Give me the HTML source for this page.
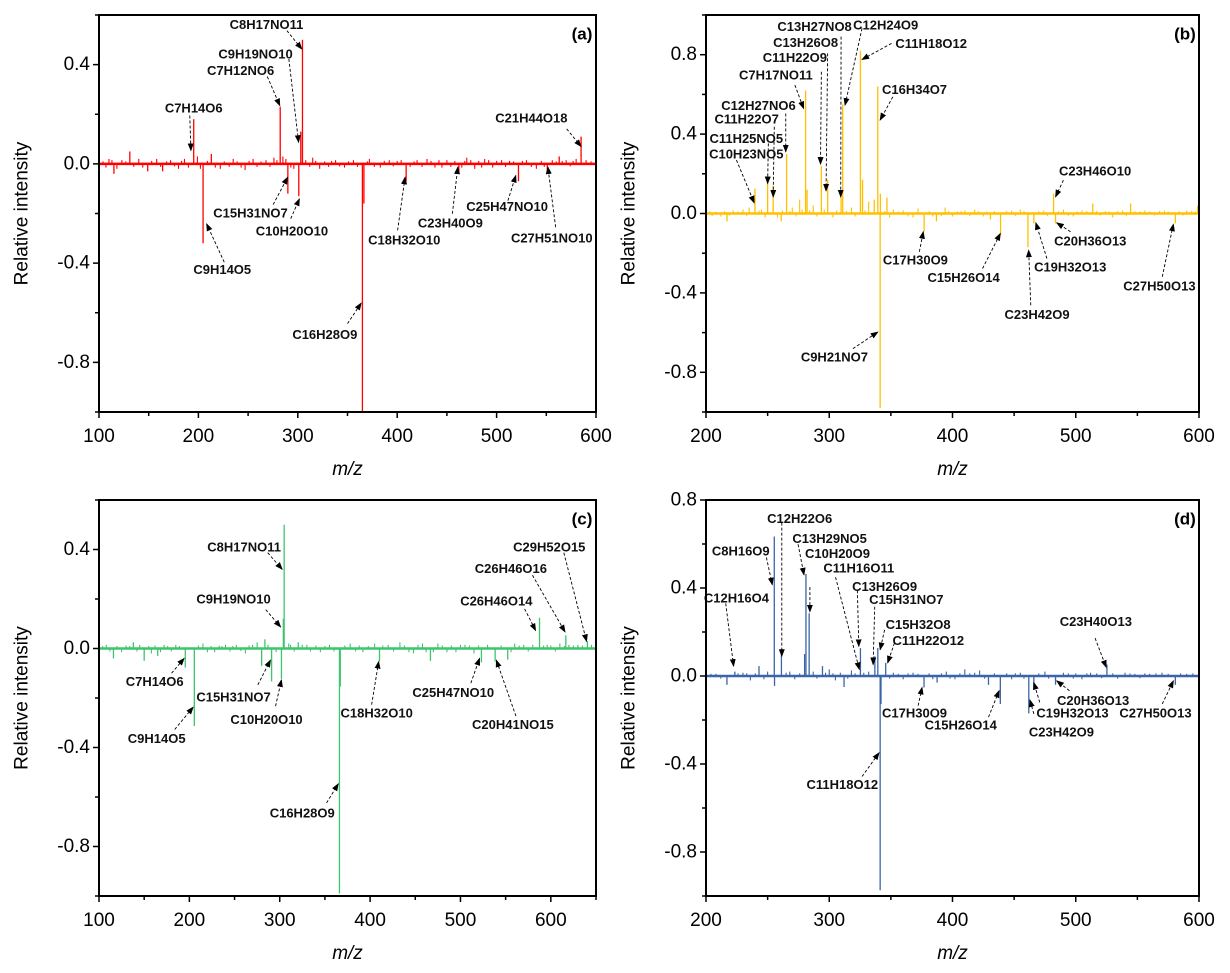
<!DOCTYPE html>
<html><head><meta charset="utf-8">
<style>
html,body{margin:0;padding:0;background:#fff;}
svg{display:block;font-family:"Liberation Sans",Arial,sans-serif;}
</style></head>
<body>
<svg id="fig" width="1230" height="973" viewBox="0 0 1230 973" xmlns="http://www.w3.org/2000/svg">
<defs>
<marker id="ah" markerWidth="8" markerHeight="8" refX="7" refY="4" orient="auto" markerUnits="userSpaceOnUse">
<path d="M0,1 L8,4 L0,7 Z" fill="#000"/>
</marker>
</defs>
</svg>
<script>
// ---------- Panel (a) data ----------
const aPeakMz  = [195.3,282.3,304.7,303,585,204.7,290,301,365,366.5,409,462,522,551,131,213,115,149,164,563];
const aPeakVal = [0.18,0.23,0.50,0.13,0.11,-0.32,-0.12,-0.13,-1.0,-0.16,-0.07,-0.04,-0.07,-0.04,0.05,0.04,-0.04,-0.03,-0.03,0.03];
const aNoiseMz  = [104,107,110,113,118,123,127,135,140,144,153,158,162,168,172,176,180,183,186,190,199,202,209,217,222,226,231,235,239,243,247,251,255,259,263,268,272,276,279,285,288,293,296,308,312,315,318,322,327,331,334,338,342,347,351,356,360,370,372,377,383,387,392,396,400,404,413,417,420,425,430,434,438,442,445,450,454,458,465,468,470,474,478,482,485,488,492,496,500,505,509,513,517,526,530,535,540,545,548,556,560,566,570,574,577,580,590,595];
const aNoiseVal = [0.01,-0.015,0.02,0.015,-0.02,0.015,0.01,-0.012,0.02,-0.015,0.012,0.02,-0.012,0.01,0.015,-0.01,-0.02,0.012,0.02,-0.015,0.03,-0.02,0.012,-0.015,-0.02,0.01,-0.012,0.02,0.01,-0.015,-0.025,0.012,0.02,-0.012,0.01,0.015,-0.012,0.025,0.015,0.03,0.02,-0.015,-0.02,0.015,-0.012,0.025,0.012,-0.02,0.01,-0.012,0.012,0.015,-0.01,-0.015,0.01,0.015,-0.012,0.01,0.02,-0.012,-0.015,0.012,0.015,-0.01,0.012,0.015,-0.012,0.01,0.015,-0.012,0.02,0.012,-0.015,0.015,-0.015,0.015,-0.012,0.012,-0.015,0.012,0.025,0.015,-0.02,0.012,-0.015,0.02,0.015,-0.015,0.012,0.015,-0.012,0.012,0.01,0.012,0.015,-0.012,-0.02,0.012,-0.012,0.015,0.01,0.012,0.015,-0.01,0.012,0.02,0.015,0.01];
const aLabels = ["C8H17NO11","C9H19NO10","C7H12NO6","C7H14O6","C21H44O18","C15H31NO7","C10H20O10","C9H14O5","C16H28O9","C18H32O10","C23H40O9","C25H47NO10","C27H51NO10"];
const aLabelMz  = [268.5,257.5,242.5,195.3,535,252.4,294.1,224,327.2,407.1,453.5,510.6,555.5];
const aLabelVal = [0.561,0.443,0.376,0.225,0.184,-0.197,-0.271,-0.426,-0.687,-0.306,-0.239,-0.172,-0.298];
const aTailMz   = [289,291,269.3,191.3,570.5,275.2,292.9,226,350,400.4,455.5,511.4,559.4];
const aTailVal  = [0.537,0.423,0.352,0.195,0.141,-0.164,-0.221,-0.396,-0.644,-0.268,-0.201,-0.148,-0.255];
const aTipMz    = [304,300.8,281.9,192.5,585,289.8,301.6,208.3,363.8,407.9,461,519.3,551.6];
const aTipVal   = [0.463,0.087,0.235,0.054,0.070,-0.054,-0.141,-0.242,-0.561,-0.054,-0.013,-0.047,-0.013];

// ---------- Panel (b) data ----------
const bPeakMz  = [239.7,250,254.5,265.4,280.8,282,293.6,298.7,310.9,309.6,325.3,327,339.4,341.5,341.3,482,513.8,544.5,599,346.8,336.5,377,439,461.2,466,483.6,580.8,217,261,387,430.8];
const bPeakVal = [0.126,0.16,0.14,0.30,0.62,0.12,0.24,0.17,0.55,0.09,0.82,0.17,0.64,0.10,-0.98,0.10,0.05,0.05,0.04,0.08,0.07,-0.09,-0.11,-0.17,-0.05,-0.05,-0.05,-0.04,-0.04,-0.04,-0.03];
const bNoiseMz  = [203,205,208,212,215,219,222,226,230,233,235,243,245,248,258,262,268,270,273,276,278,284,287,290,296,303,306,314,318,321,329,332,345,349,352,356,360,364,368,372,381,384,391,394,397,400,404,407,410,414,418,421,425,428,434,444,448,451,455,458,470,474,477,486,490,494,498,501,505,509,517,520,524,527,530,534,538,541,548,552,556,560,564,568,572,575,584,587,590,594,597];
const bNoiseVal = [0.01,-0.012,0.01,-0.015,0.012,-0.01,0.015,0.01,0.02,-0.012,0.03,0.015,0.02,-0.02,-0.02,0.015,0.012,0.03,-0.015,0.07,0.02,0.015,0.04,-0.015,0.02,-0.02,0.015,0.012,0.03,-0.015,0.015,0.06,0.012,-0.02,0.02,0.01,0.015,-0.015,-0.02,0.025,0.012,-0.015,-0.012,0.03,0.012,-0.015,0.01,0.012,0.015,-0.012,0.02,0.012,-0.015,0.01,0.012,0.012,0.015,-0.012,0.02,0.012,0.012,0.015,-0.012,0.012,0.02,-0.012,-0.015,0.01,0.015,0.012,0.012,-0.01,0.012,0.01,-0.02,0.012,0.015,-0.012,0.012,0.01,0.015,0.01,-0.01,0.012,0.015,0.01,0.012,-0.01,0.015,0.012,0.01];
const bLabels = ["C13H27NO8","C12H24O9","C13H26O8","C11H18O12","C11H22O9","C7H17NO11","C16H34O7","C12H27NO6","C11H22O7","C11H25NO5","C10H23NO5","C23H46O10","C17H30O9","C15H26O14","C23H42O9","C19H32O13","C20H36O13","C27H50O13","C9H21NO7"];
const bLabelMz  = [288.1,345.8,280.8,382.7,272.1,256.7,369.2,242.6,233,232.7,232.7,515.7,369.9,409,468.6,495.5,511.8,567.9,304.2];
const bLabelVal = [0.941,0.950,0.861,0.857,0.787,0.697,0.625,0.543,0.476,0.378,0.299,0.213,-0.235,-0.323,-0.508,-0.269,-0.139,-0.366,-0.723];
const bTailMz   = [309.6,326.6,298.7,350.6,293.6,272.1,351.6,264.7,255.4,250.6,224.7,490,373.1,424.4,463.5,476.6,495.8,570.2,319.2];
const bTailVal  = [0.891,0.933,0.807,0.857,0.714,0.647,0.588,0.504,0.437,0.353,0.269,0.168,-0.193,-0.277,-0.462,-0.227,-0.092,-0.319,-0.681];
const bTipMz    = [309.3,312.8,297.4,326.6,292.9,279.2,341.3,264.7,254.5,250,239.1,483.6,376.3,438.8,461.8,467.6,484.6,579.2,339.4];
const bTipVal   = [0.084,0.546,0.114,0.776,0.249,0.529,0.471,0.311,0.084,0.151,0.054,0.084,-0.092,-0.101,-0.185,-0.047,-0.047,-0.054,-0.597];

// ---------- Panel (c) data ----------
const cPeakMz  = [304.9,304,587.5,616.6,640.5,283.6,138,320.5,195.5,205.5,291,301.9,366.1,367,410.4,523.2,538.4,116,150,280,466.8,552.3,165];
const cPeakVal = [0.50,0.12,0.124,0.053,0.03,0.037,0.025,0.025,-0.077,-0.313,-0.133,-0.123,-0.99,-0.153,-0.053,-0.056,-0.053,-0.04,-0.05,-0.07,-0.05,-0.045,-0.03];
const cNoiseMz  = [104,108,112,120,125,130,134,142,145,155,158,162,168,172,176,180,185,189,210,215,220,224,228,233,236,240,245,248,252,257,262,266,270,275,287,296,310,312,316,325,330,334,340,345,350,355,360,372,378,384,388,392,398,405,414,420,426,433,438,443,448,453,458,462,470,475,480,485,490,495,500,505,510,515,520,530,545,556,560,565,570,575,580,592,596,600,605,610,615,620,625,630,635,645];
const cNoiseVal = [0.01,0.015,-0.012,0.01,-0.015,0.012,0.01,-0.012,0.015,0.01,-0.02,0.012,-0.015,0.015,0.01,-0.012,0.015,0.01,0.012,0.02,-0.015,0.01,-0.015,0.012,0.01,0.015,-0.012,0.01,0.015,-0.01,-0.02,0.012,0.015,0.025,0.015,-0.015,0.02,0.015,-0.012,0.015,0.015,-0.012,0.012,-0.015,0.01,0.015,-0.012,0.012,0.02,-0.012,0.012,-0.015,0.01,0.02,0.012,0.015,-0.012,0.025,0.012,-0.015,-0.02,0.015,0.02,-0.015,-0.015,0.02,0.012,-0.015,0.012,-0.015,0.015,0.015,0.012,-0.02,0.012,0.015,0.012,-0.015,0.02,0.012,0.015,-0.012,0.015,0.012,0.015,0.012,-0.012,0.02,0.01,0.015,0.012,0.015,0.012,0.015];
const cLabels = ["C8H17NO11","C9H19NO10","C29H52O15","C26H46O16","C26H46O14","C7H14O6","C15H31NO7","C10H20O10","C9H14O5","C16H28O9","C18H32O10","C25H47NO10","C20H41NO15"];
const cLabelMz  = [260.6,248.9,598.3,555.8,539.7,161.6,248.9,285.4,163.8,324.9,407.3,492,558];
const cLabelVal = [0.411,0.2,0.411,0.324,0.191,-0.133,-0.196,-0.287,-0.364,-0.664,-0.26,-0.177,-0.307];
const cTailMz   = [286.7,284.5,614.4,579.7,571,180.3,275.8,295.4,183.8,351.8,401.7,511.5,561.4];
const cTailVal  = [0.387,0.157,0.387,0.296,0.16,-0.1,-0.147,-0.233,-0.327,-0.624,-0.227,-0.14,-0.273];
const cTipMz    = [302.7,301,639.6,615.7,583.2,194.2,289.7,301.9,204.2,364.8,409.5,521.1,539.7];
const cTipVal   = [0.32,0.087,0.029,0.067,0.073,-0.04,-0.047,-0.127,-0.237,-0.547,-0.053,-0.04,-0.047];

// ---------- Panel (d) data ----------
const dPeakMz  = [255.4,261.2,281.1,283.7,280,325.3,339.4,337,345.8,525.3,223.4,243,294.5,341.3,342,376.9,438.8,429.2,461.9,466,483.6,580.8,255.6,217,312,387.5];
const dPeakVal = [0.634,0.097,0.464,0.285,0.10,0.127,0.127,0.09,0.06,0.052,0.02,0.045,0.045,-0.974,-0.127,-0.052,-0.127,-0.04,-0.17,-0.05,-0.04,-0.04,-0.045,-0.04,-0.05,-0.03];
const dNoiseMz  = [204,208,212,226,230,233,236,240,247,250,265,268,272,276,287,290,297,300,303,305,309,315,318,321,328,332,349,352,356,360,364,368,372,381,384,391,395,398,402,406,410,414,418,422,426,434,444,448,451,455,458,470,475,478,490,494,498,500,505,509,512,517,521,530,534,540,544,548,552,556,560,565,570,575,585,590,595];
const dNoiseVal = [0.01,0.01,-0.012,0.012,0.015,0.012,-0.02,0.012,-0.015,0.02,0.015,0.02,-0.015,0.012,0.02,-0.012,0.015,0.03,0.012,-0.02,0.015,-0.012,0.025,0.012,0.015,0.02,-0.012,0.015,0.01,-0.015,0.012,0.015,0.01,0.012,-0.015,0.012,0.02,-0.012,-0.015,0.012,0.03,0.012,0.015,0.025,-0.012,0.012,0.012,-0.015,0.012,0.015,-0.012,0.012,0.02,-0.012,0.015,0.012,-0.012,0.012,-0.015,0.012,0.015,0.012,-0.01,0.012,-0.012,0.015,0.012,0.01,-0.01,0.012,0.01,0.012,0.015,0.01,0.012,0.01,0.012];
const dLabels = ["C12H22O6","C13H29NO5","C10H20O9","C8H16O9","C11H16O11","C13H26O9","C15H31NO7","C15H32O8","C11H22O12","C12H16O4","C23H40O13","C17H30O9","C15H26O14","C20H36O13","C19H32O13","C23H42O9","C27H50O13","C11H18O12"];
const dLabelMz  = [276,300.3,306.7,228.2,324,344.9,362.5,372.1,380.4,224.7,516.3,369.2,406.7,514.1,497.4,488.4,564.7,310.6];
const dLabelVal = [0.715,0.625,0.557,0.569,0.491,0.407,0.348,0.235,0.162,0.355,0.247,-0.169,-0.222,-0.112,-0.169,-0.255,-0.169,-0.494];
const dTailMz   = [261.5,274.7,284.3,249,305.1,322.8,336.9,344.9,352.9,216,515.7,372.1,429.2,494.9,470.8,466,570.2,326.6];
const dTailVal  = [0.697,0.599,0.404,0.539,0.449,0.39,0.315,0.21,0.15,0.33,0.172,-0.135,-0.187,-0.067,-0.12,-0.172,-0.127,-0.457];
const dTipMz    = [261.5,279.5,284.3,253.8,324.4,324,335.6,341.3,347.4,222.4,524.7,375.3,437.8,484.6,466,462.8,579.2,340.4];
const dTipVal   = [0.09,0.46,0.292,0.415,0.03,0.135,0.052,0.12,0.06,0.045,0.04,-0.052,-0.067,-0.022,-0.03,-0.109,-0.022,-0.349];

// ---------- drawing ----------
const NS = "http://www.w3.org/2000/svg";
const svg = document.getElementById("fig");
function mk(tag, attrs, parent) {
  const e = document.createElementNS(NS, tag);
  for (const k in attrs) e.setAttribute(k, attrs[k]);
  (parent || svg).appendChild(e);
  return e;
}

const panels = [
  {id:"a", x0:99, x1:596, y0:15, y1:412, xmin:100, xmax:600, ymin:-1, ymax:0.6, color:"#ff0000",
   xticks:[100,200,300,400,500,600], yticks:[-0.8,-0.4,0.0,0.4],
   pm:aPeakMz, pv:aPeakVal, nm:aNoiseMz, nv:aNoiseVal, lt:aLabels, lx:aLabelMz, ly:aLabelVal, sx:aTailMz, sy:aTailVal, tx:aTipMz, ty:aTipVal},
  {id:"b", x0:706, x1:1199, y0:15, y1:412, xmin:200, xmax:600, ymin:-1, ymax:1, color:"#ffc000",
   xticks:[200,300,400,500,600], yticks:[-0.8,-0.4,0.0,0.4,0.8],
   pm:bPeakMz, pv:bPeakVal, nm:bNoiseMz, nv:bNoiseVal, lt:bLabels, lx:bLabelMz, ly:bLabelVal, sx:bTailMz, sy:bTailVal, tx:bTipMz, ty:bTipVal},
  {id:"c", x0:99, x1:596, y0:500, y1:896, xmin:100, xmax:650, ymin:-1, ymax:0.6, color:"#3ec46d",
   xticks:[100,200,300,400,500,600], yticks:[-0.8,-0.4,0.0,0.4],
   pm:cPeakMz, pv:cPeakVal, nm:cNoiseMz, nv:cNoiseVal, lt:cLabels, lx:cLabelMz, ly:cLabelVal, sx:cTailMz, sy:cTailVal, tx:cTipMz, ty:cTipVal},
  {id:"d", x0:706, x1:1199, y0:500, y1:896, xmin:200, xmax:600, ymin:-1, ymax:0.8, color:"#3a66a8",
   xticks:[200,300,400,500,600], yticks:[-0.8,-0.4,0.0,0.4,0.8],
   pm:dPeakMz, pv:dPeakVal, nm:dNoiseMz, nv:dNoiseVal, lt:dLabels, lx:dLabelMz, ly:dLabelVal, sx:dTailMz, sy:dTailVal, tx:dTipMz, ty:dTipVal}
];

panels.forEach(p => {
  const X = v => p.x0 + (v - p.xmin) / (p.xmax - p.xmin) * (p.x1 - p.x0);
  const Y = v => p.y1 - (v - p.ymin) / (p.ymax - p.ymin) * (p.y1 - p.y0);
  const g = mk("g", {});
  
  

  p.nm.forEach((m, i) => {
    const l = mk("line", {x1:X(m), x2:X(m), y1:Y(0), y2:Y(p.nv[i]), stroke:p.color, "stroke-width":1.1}, g);
    
    
  });
  const bl = mk("line", {x1:p.x0, x2:p.x1, y1:Y(0), y2:Y(0), stroke:p.color, "stroke-width":2.5}, g);
  
  
  p.pm.forEach((m, i) => {
    const l = mk("line", {x1:X(m), x2:X(m), y1:Y(0), y2:Y(p.pv[i]), stroke:p.color, "stroke-width":1.3}, g);
    
    
  });
  p.lt.forEach((t, i) => {
    const a = mk("line", {x1:X(p.sx[i]), y1:Y(p.sy[i]), x2:X(p.tx[i]), y2:Y(p.ty[i]), stroke:"#000", "stroke-width":0.9, "stroke-dasharray":"3,2", "marker-end":"url(#ah)"}, g);
    
    
    const tx = mk("text", {x:X(p.lx[i]), y:Y(p.ly[i]), "text-anchor":"middle", "dominant-baseline":"central", "font-size":"13", "font-weight":"bold", fill:"#111"}, g);
    tx.textContent = t;
    
    
  });
  const fr = mk("rect", {x:p.x0, y:p.y0, width:p.x1 - p.x0, height:p.y1 - p.y0, fill:"none", stroke:"#000", "stroke-width":2}, g);
  
  
  for (let v = p.xmin; v <= p.xmax + 0.001; v += 50) {
    const major = (v % 100 === 0);
    const tk = mk("line", {x1:X(v), x2:X(v), y1:p.y1, y2:p.y1 + (major ? 6 : 4), stroke:"#000", "stroke-width":1.5}, g);
    
    
  }
  p.xticks.forEach(v => {
    const t = mk("text", {x:X(v), y:p.y1 + 30, "text-anchor":"middle", "font-size":"19", fill:"#000"}, g);
    t.textContent = v;
    
    
  });
  for (let k = Math.ceil(p.ymin / 0.2); k * 0.2 <= p.ymax + 1e-9; k++) {
    const v = k * 0.2;
    const major = (k % 2 === 0);
    const tk = mk("line", {x1:p.x0, x2:p.x0 - (major ? 6 : 4), y1:Y(v), y2:Y(v), stroke:"#000", "stroke-width":1.5}, g);
    
    
  }
  p.yticks.forEach(v => {
    const t = mk("text", {x:p.x0 - 9, y:Y(v), "text-anchor":"end", "dominant-baseline":"central", "font-size":"19", fill:"#000"}, g);
    t.textContent = v.toFixed(1);
    
    
  });
  const xt = mk("text", {x:(p.x0 + p.x1) / 2, y:p.y1 + 63, "text-anchor":"middle", "font-size":"19", "font-style":"italic", fill:"#000"}, g);
  xt.textContent = "m/z";
  
  
  const cy = (p.y0 + p.y1) / 2;
  const yx = p.x0 - 77;
  const yt = mk("text", {x:yx, y:cy, "text-anchor":"middle", "dominant-baseline":"central", "font-size":"19", transform:"rotate(-90 " + yx + " " + cy + ")", fill:"#000"}, g);
  yt.textContent = "Relative intensity";
  
  
  const pt = mk("text", {x:p.x1 - 14, y:p.y0 + 19, "text-anchor":"middle", "dominant-baseline":"central", "font-size":"17", "font-weight":"bold", fill:"#000"}, g);
  pt.textContent = "(" + p.id + ")";
  
  
});
</script>
</body></html>
